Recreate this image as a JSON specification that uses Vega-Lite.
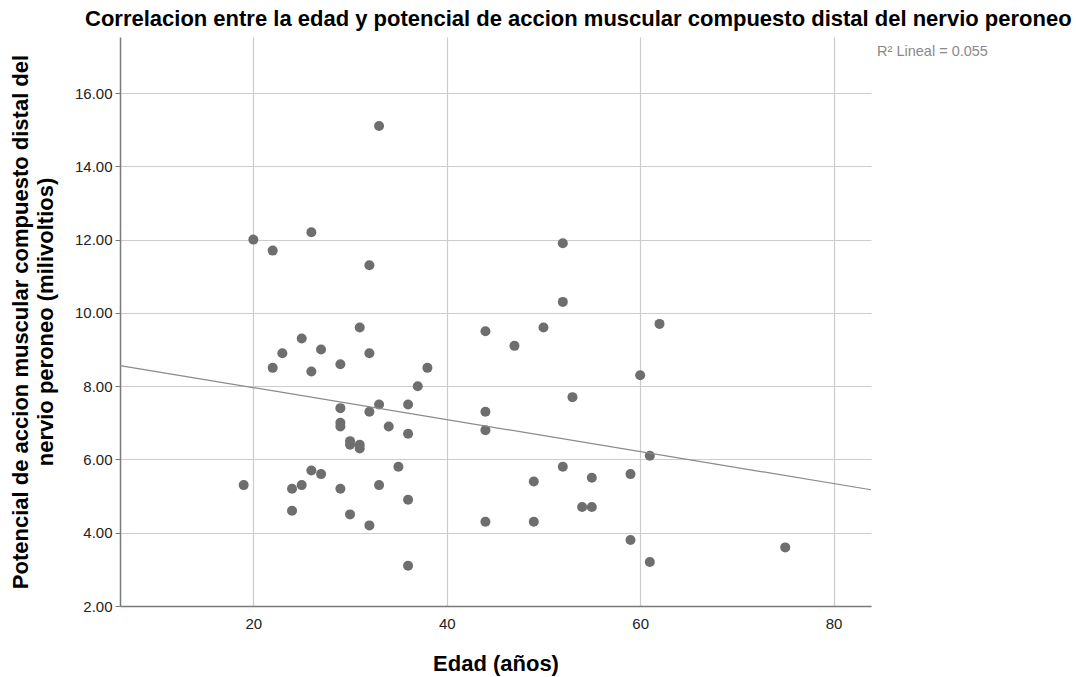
{
  "$schema": "https://vega.github.io/schema/vega-lite/v6.json",
  "width": 751,
  "height": 569,
  "autosize": {"type": "none"},
  "padding": {"left": 120, "top": 37, "right": 205, "bottom": 71},
  "background": "white",
  "config": {"font": "Liberation Sans", "view": {"stroke": null}},
  "title": {
    "text": "Correlacion entre la edad y potencial de accion muscular compuesto distal del nervio peroneo",
    "anchor": "start",
    "frame": "group",
    "dx": -35,
    "fontSize": 22,
    "font": "Liberation Sans",
    "fontWeight": "bold",
    "color": "#000000",
    "offset": 6
  },
  "data": {
    "values": [
      {"edad": 33, "pav": 15.1}, {"edad": 20, "pav": 12.0}, {"edad": 22, "pav": 11.7}, {"edad": 26, "pav": 12.2},
      {"edad": 32, "pav": 11.3}, {"edad": 31, "pav": 9.6}, {"edad": 25, "pav": 9.3}, {"edad": 23, "pav": 8.9},
      {"edad": 27, "pav": 9.0}, {"edad": 32, "pav": 8.9}, {"edad": 22, "pav": 8.5}, {"edad": 26, "pav": 8.4},
      {"edad": 29, "pav": 8.6}, {"edad": 38, "pav": 8.5}, {"edad": 37, "pav": 8.0}, {"edad": 29, "pav": 7.4},
      {"edad": 32, "pav": 7.3}, {"edad": 33, "pav": 7.5}, {"edad": 36, "pav": 7.5}, {"edad": 29, "pav": 7.0},
      {"edad": 29, "pav": 6.9}, {"edad": 34, "pav": 6.9}, {"edad": 36, "pav": 6.7}, {"edad": 30, "pav": 6.5},
      {"edad": 30, "pav": 6.4}, {"edad": 31, "pav": 6.4}, {"edad": 31, "pav": 6.3}, {"edad": 35, "pav": 5.8},
      {"edad": 26, "pav": 5.7}, {"edad": 27, "pav": 5.6}, {"edad": 19, "pav": 5.3}, {"edad": 24, "pav": 5.2},
      {"edad": 25, "pav": 5.3}, {"edad": 29, "pav": 5.2}, {"edad": 33, "pav": 5.3}, {"edad": 36, "pav": 4.9},
      {"edad": 24, "pav": 4.6}, {"edad": 30, "pav": 4.5}, {"edad": 32, "pav": 4.2}, {"edad": 36, "pav": 3.1},
      {"edad": 52, "pav": 11.9}, {"edad": 52, "pav": 10.3}, {"edad": 44, "pav": 9.5}, {"edad": 50, "pav": 9.6},
      {"edad": 47, "pav": 9.1}, {"edad": 62, "pav": 9.7}, {"edad": 60, "pav": 8.3}, {"edad": 53, "pav": 7.7},
      {"edad": 44, "pav": 7.3}, {"edad": 44, "pav": 6.8}, {"edad": 61, "pav": 6.1}, {"edad": 52, "pav": 5.8},
      {"edad": 49, "pav": 5.4}, {"edad": 55, "pav": 5.5}, {"edad": 59, "pav": 5.6}, {"edad": 54, "pav": 4.7},
      {"edad": 55, "pav": 4.7}, {"edad": 44, "pav": 4.3}, {"edad": 49, "pav": 4.3}, {"edad": 59, "pav": 3.8},
      {"edad": 61, "pav": 3.2}, {"edad": 75, "pav": 3.6}
    ]
  },
  "layer": [
    {
      "mark": {"type": "circle", "size": 100, "color": "#6e6e6e", "opacity": 1},
      "encoding": {
        "x": {
          "field": "edad",
          "type": "quantitative",
          "scale": {"domain": [6.21, 83.87], "nice": false, "zero": false},
          "axis": {
            "values": [20, 40, 60, 80],
            "title": "Edad (años)",
            "titleFontSize": 22,
            "titleFontWeight": "bold",
            "titleColor": "#000000",
            "titleY": 57,
            "titleBaseline": "middle",
            "labelFontSize": 15,
            "labelColor": "#222222",
            "labelPadding": 10,
            "ticks": false,
            "labelFlush": false,
            "domainColor": "#7a7a7a",
            "domainWidth": 1.5,
            "grid": true,
            "gridColor": "#cccccc",
            "gridWidth": 1.2
          }
        },
        "y": {
          "field": "pav",
          "type": "quantitative",
          "scale": {"domain": [2, 17.53], "nice": false, "zero": false},
          "axis": {
            "values": [2, 4, 6, 8, 10, 12, 14, 16],
            "format": ".2f",
            "title": ["Potencial de accion muscular compuesto distal del", "nervio peroneo (milivoltios)"],
            "titleFontSize": 22,
            "titleFontWeight": "bold",
            "titleColor": "#000000",
            "titleX": -110,
            "titleY": 284.5,
            "titleAngle": -90,
            "titleAlign": "center",
            "titleBaseline": "top",
            "titleLineHeight": 25,
            "labelFontSize": 15,
            "labelColor": "#222222",
            "labelPadding": 3,
            "tickSize": 5,
            "tickColor": "#7a7a7a",
            "domainColor": "#7a7a7a",
            "domainWidth": 1.5,
            "grid": true,
            "gridColor": "#cccccc",
            "gridWidth": 1.2
          }
        }
      }
    },
    {
      "transform": [{"regression": "pav", "on": "edad", "extent": [6.21, 83.87]}],
      "mark": {"type": "line", "color": "#8a8a8a", "strokeWidth": 1.2},
      "encoding": {
        "x": {"field": "edad", "type": "quantitative"},
        "y": {"field": "pav", "type": "quantitative"}
      }
    },
    {
      "data": {"values": [{"label": "R² Lineal = 0.055"}]},
      "mark": {"type": "text", "align": "left", "baseline": "middle", "fontSize": 14.5, "color": "#8a8a8a", "font": "Liberation Sans"},
      "encoding": {
        "x": {"datum": 84.5},
        "y": {"datum": 17.12},
        "text": {"field": "label"}
      }
    }
  ]
}
